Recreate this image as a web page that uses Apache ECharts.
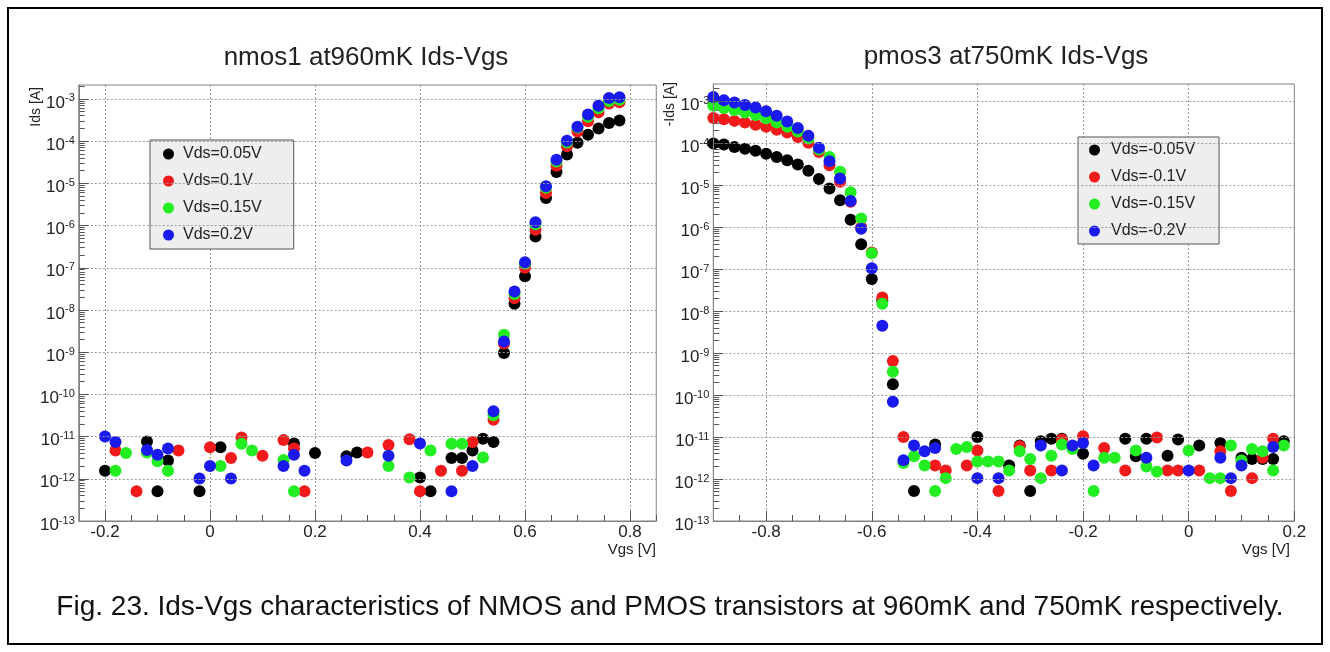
<!DOCTYPE html>
<html><head><meta charset="utf-8">
<script src="https://cdn.jsdelivr.net/npm/echarts@6/dist/echarts.min.js"></script>
<style>html,body{margin:0;padding:0;background:#fff}#c{width:1330px;height:652px}</style>
</head><body><div id="c"></div>
<script>
// ---------- texts ----------
const nmosTitle = 'nmos1 at960mK Ids-Vgs';
const pmosTitle = 'pmos3 at750mK Ids-Vgs';
const caption = 'Fig. 23. Ids-Vgs characteristics of NMOS and PMOS transistors at 960mK and 750mK respectively.';
const nmosYName = 'Ids [A]';
const pmosYName = '-Ids [A]';
const xName = 'Vgs [V]';
const nmosNames = ['Vds=0.05V', 'Vds=0.1V', 'Vds=0.15V', 'Vds=0.2V'];
const pmosNames = ['Vds=-0.05V', 'Vds=-0.1V', 'Vds=-0.15V', 'Vds=-0.2V'];

// ---------- tick labels ----------
const nmosXTicks = [-0.2, 0, 0.2, 0.4, 0.6, 0.8];
const pmosXTicks = [-0.8, -0.6, -0.4, -0.2, 0, 0.2];
const yDecades = [-13, -12, -11, -10, -9, -8, -7, -6, -5, -4, -3]; // exponents of 10

// ---------- data: [Vgs (V), Ids (A)] ----------
const nmos_vds005 = [[-0.2,1.55e-12],[-0.12,7.6e-12],[-0.10,5.1e-13],[-0.08,2.7e-12],[-0.02,5.1e-13],[0.02,5.6e-12],[0.16,6.9e-12],[0.20,4.1e-12],[0.26,3.4e-12],[0.28,4.2e-12],[0.40,1.07e-12],[0.42,5.1e-13],[0.46,3.1e-12],[0.48,3.1e-12],[0.50,4.7e-12],[0.52,8.9e-12],[0.54,7.4e-12],[0.56,9.5e-10],[0.58,1.4e-8],[0.60,6.3e-8],[0.62,5.5e-7],[0.64,4.5e-6],[0.66,1.86e-5],[0.68,4.8e-5],[0.70,9.1e-5],[0.72,1.41e-4],[0.74,2.0e-4],[0.76,2.7e-4],[0.78,3.1e-4]];
const nmos_vds010 = [[-0.18,4.7e-12],[-0.14,5.1e-13],[-0.06,4.7e-12],[0,5.6e-12],[0.04,3.1e-12],[0.06,9.5e-12],[0.10,3.5e-12],[0.14,8.3e-12],[0.16,5.2e-12],[0.18,5.1e-13],[0.30,4.2e-12],[0.34,6.3e-12],[0.38,8.7e-12],[0.40,5.1e-13],[0.44,1.55e-12],[0.48,1.55e-12],[0.50,7.4e-12],[0.54,2.5e-11],[0.56,1.6e-9],[0.58,1.9e-8],[0.60,1.0e-7],[0.62,7.9e-7],[0.64,5.9e-6],[0.66,2.6e-5],[0.68,7.6e-5],[0.70,1.7e-4],[0.72,2.95e-4],[0.74,4.8e-4],[0.76,7.8e-4],[0.78,8.3e-4]];
const nmos_vds015 = [[-0.18,1.55e-12],[-0.16,4.1e-12],[-0.12,4.2e-12],[-0.10,2.6e-12],[-0.08,1.55e-12],[0.02,2.0e-12],[0.06,6.8e-12],[0.08,4.7e-12],[0.14,2.8e-12],[0.16,5.1e-13],[0.34,2.0e-12],[0.38,1.07e-12],[0.42,4.7e-12],[0.46,6.8e-12],[0.48,6.8e-12],[0.52,3.2e-12],[0.54,3.2e-11],[0.56,2.6e-9],[0.58,2.4e-8],[0.60,1.26e-7],[0.62,1.07e-6],[0.64,7.9e-6],[0.66,3.3e-5],[0.68,9.3e-5],[0.70,2.1e-4],[0.72,3.8e-4],[0.74,6.0e-4],[0.76,8.9e-4],[0.78,9.5e-4]];
const nmos_vds020 = [[-0.2,1.0e-11],[-0.18,7.4e-12],[-0.12,4.8e-12],[-0.10,3.7e-12],[-0.08,5.2e-12],[-0.02,1.02e-12],[0,2.0e-12],[0.04,1.02e-12],[0.14,2.0e-12],[0.16,3.7e-12],[0.18,1.55e-12],[0.26,2.7e-12],[0.34,3.5e-12],[0.40,6.9e-12],[0.46,5.1e-13],[0.50,2.0e-12],[0.54,4.0e-11],[0.56,1.8e-9],[0.58,2.75e-8],[0.60,1.35e-7],[0.62,1.2e-6],[0.64,8.5e-6],[0.66,3.6e-5],[0.68,1.02e-4],[0.70,2.2e-4],[0.72,4.3e-4],[0.74,6.9e-4],[0.76,1.05e-3],[0.78,1.1e-3]];

const pmos_vds005 = [[-0.90,9.8e-5],[-0.88,9.3e-5],[-0.86,8.1e-5],[-0.84,7.4e-5],[-0.82,6.6e-5],[-0.80,5.6e-5],[-0.78,4.7e-5],[-0.76,3.9e-5],[-0.74,3.1e-5],[-0.72,2.2e-5],[-0.70,1.4e-5],[-0.68,8.3e-6],[-0.66,4.4e-6],[-0.64,1.5e-6],[-0.62,3.9e-7],[-0.60,5.8e-8],[-0.58,1.8e-8],[-0.56,1.8e-10],[-0.52,5.2e-13],[-0.48,6.6e-12],[-0.40,1.0e-11],[-0.34,2.1e-12],[-0.32,6.3e-12],[-0.30,5.2e-13],[-0.28,7.9e-12],[-0.26,9.1e-12],[-0.24,9.1e-12],[-0.20,4.0e-12],[-0.12,9.1e-12],[-0.10,3.5e-12],[-0.08,9.1e-12],[-0.04,3.6e-12],[-0.02,8.7e-12],[0.02,6.3e-12],[0.06,7.2e-12],[0.10,3.2e-12],[0.12,3.0e-12],[0.14,3.0e-12],[0.16,3.0e-12],[0.18,7.9e-12]];
const pmos_vds010 = [[-0.90,4.0e-4],[-0.88,3.7e-4],[-0.86,3.4e-4],[-0.84,3.1e-4],[-0.82,2.75e-4],[-0.80,2.45e-4],[-0.78,2.1e-4],[-0.76,1.8e-4],[-0.74,1.4e-4],[-0.72,1.02e-4],[-0.70,6.2e-5],[-0.68,3.0e-5],[-0.66,1.2e-5],[-0.64,4.0e-6],[-0.62,1.0e-6],[-0.60,2.5e-7],[-0.58,2.1e-8],[-0.56,6.5e-10],[-0.54,1.0e-11],[-0.48,2.1e-12],[-0.46,1.6e-12],[-0.42,2.1e-12],[-0.40,4.8e-12],[-0.36,5.2e-13],[-0.32,6.0e-12],[-0.30,1.6e-12],[-0.26,1.6e-12],[-0.24,8.7e-12],[-0.20,1.05e-11],[-0.16,5.5e-12],[-0.12,1.6e-12],[-0.06,9.8e-12],[-0.04,1.6e-12],[-0.02,1.6e-12],[0.02,1.6e-12],[0.06,4.6e-12],[0.08,5.2e-13],[0.12,1.05e-12],[0.14,3.2e-12],[0.16,9.1e-12]];
const pmos_vds015 = [[-0.90,7.8e-4],[-0.88,6.9e-4],[-0.86,6.2e-4],[-0.84,5.4e-4],[-0.82,4.7e-4],[-0.80,3.9e-4],[-0.78,3.1e-4],[-0.76,2.45e-4],[-0.74,1.9e-4],[-0.72,1.3e-4],[-0.70,7.1e-5],[-0.68,4.7e-5],[-0.66,2.1e-5],[-0.64,6.8e-6],[-0.62,1.6e-6],[-0.60,2.4e-7],[-0.58,1.5e-8],[-0.56,3.6e-10],[-0.54,2.4e-12],[-0.52,3.5e-12],[-0.50,2.1e-12],[-0.48,5.2e-13],[-0.46,1.05e-12],[-0.44,5.2e-12],[-0.42,5.8e-12],[-0.40,2.6e-12],[-0.38,2.6e-12],[-0.36,2.6e-12],[-0.34,1.6e-12],[-0.32,4.6e-12],[-0.30,3.0e-12],[-0.28,1.05e-12],[-0.26,3.6e-12],[-0.24,6.6e-12],[-0.22,5.2e-12],[-0.18,5.2e-13],[-0.16,3.2e-12],[-0.14,3.2e-12],[-0.10,4.8e-12],[-0.08,2.0e-12],[-0.06,1.5e-12],[0,4.8e-12],[0.04,1.05e-12],[0.06,1.05e-12],[0.08,6.3e-12],[0.10,2.75e-12],[0.12,5.2e-12],[0.14,4.6e-12],[0.16,1.6e-12],[0.18,6.3e-12]];
const pmos_vds020 = [[-0.90,1.26e-3],[-0.88,1.06e-3],[-0.86,9.3e-4],[-0.84,8.1e-4],[-0.82,7.1e-4],[-0.80,5.8e-4],[-0.78,4.5e-4],[-0.76,3.3e-4],[-0.74,2.3e-4],[-0.72,1.5e-4],[-0.70,7.8e-5],[-0.68,3.7e-5],[-0.66,1.45e-5],[-0.64,4.2e-6],[-0.62,9.1e-7],[-0.60,1.05e-7],[-0.58,4.5e-9],[-0.56,6.9e-11],[-0.54,2.8e-12],[-0.52,6.3e-12],[-0.50,4.6e-12],[-0.48,5.5e-12],[-0.40,1.05e-12],[-0.36,1.05e-12],[-0.28,6.3e-12],[-0.24,1.6e-12],[-0.22,6.3e-12],[-0.20,7.2e-12],[-0.18,2.1e-12],[-0.08,3.2e-12],[0,1.6e-12],[0.06,3.2e-12],[0.08,1.05e-12],[0.10,2.1e-12],[0.16,5.8e-12]];

// ---------- styling ----------
const FONT = "'Liberation Sans', Arial, Helvetica, sans-serif";
const COLORS = ['#000000', '#f21a1a', '#22ee22', '#1a1aee'];
const FRAME = '#808080';

const chart = echarts.init(document.getElementById('c'), null, {renderer: 'canvas'});

function minorX(min, max, majors) {
  const out = [];
  for (let k = Math.ceil(min / 0.05 - 1e-6); k * 0.05 <= max + 1e-6; k++) {
    const v = Math.round(k * 5) / 100;
    if (!majors.some(m => Math.abs(m - v) < 1e-6)) out.push(v);
  }
  return out;
}
function minorY(min, max) {
  const out = [];
  yDecades.forEach(n => { for (let k = 2; k <= 9; k++) { const v = n + Math.log10(k); if (v >= min && v <= max) out.push(v); } });
  return out;
}
const fmtX = v => (Math.abs(v) < 1e-9 ? '0' : String(Math.round(v * 10) / 10));
const fmtY = v => '{b|10}{e|' + Math.round(v) + '}';
const toLog = arr => arr.map(p => [p[0], Math.log10(p[1])]);

const panels = [
  {grid: {left: 78.75, top: 85, width: 577.5, height: 436}, xMin: -0.25, xMax: 0.85, yMin: -13, yMax: -2.67, xTicks: nmosXTicks,
   names: nmosNames, data: [nmos_vds005, nmos_vds010, nmos_vds015, nmos_vds020]},
  {grid: {left: 713.3, top: 84, width: 581, height: 437}, xMin: -0.9, xMax: 0.2, yMin: -13, yMax: -2.59, xTicks: pmosXTicks,
   names: pmosNames, data: [pmos_vds005, pmos_vds010, pmos_vds015, pmos_vds020]}
];

const grid = [], xAxis = [], yAxis = [], series = [];
panels.forEach((p, i) => {
  grid.push(Object.assign({show: true, backgroundColor: '#fff', borderColor: FRAME, borderWidth: 1}, p.grid));
  xAxis.push({type: 'value', gridIndex: i, min: p.xMin, max: p.xMax, position: 'bottom',
    axisLine: {show: true, onZero: false, lineStyle: {color: FRAME}},
    axisTick: {show: true, inside: true, length: 10, customValues: p.xTicks, lineStyle: {color: '#555'}},
    axisLabel: {customValues: p.xTicks, margin: 3, fontSize: 17, color: '#222', fontFamily: FONT, formatter: fmtX},
    splitLine: {show: true, lineStyle: {color: '#9a9a9a', type: [2, 2], width: 1}}});
  xAxis.push({type: 'value', gridIndex: i, min: p.xMin, max: p.xMax, position: 'bottom',
    axisLine: {show: false, onZero: false}, axisLabel: {show: false}, splitLine: {show: false},
    axisTick: {show: true, inside: true, length: 6, customValues: minorX(p.xMin, p.xMax, p.xTicks), lineStyle: {color: '#555'}}});
  yAxis.push({type: 'value', gridIndex: i, min: p.yMin, max: p.yMax, position: 'left', z: 10,
    axisLine: {show: true, onZero: false, lineStyle: {color: FRAME}},
    axisTick: {show: true, inside: true, length: 10, customValues: yDecades.slice(1), lineStyle: {color: '#555'}},
    axisLabel: {customValues: yDecades, margin: 4, color: '#222', fontFamily: FONT, formatter: fmtY, padding: [8, 0, 0, 0],
      rich: {b: {fontSize: 17, lineHeight: 20, fontFamily: FONT, color: '#222'},
             e: {fontSize: 11, lineHeight: 12, verticalAlign: 'top', fontFamily: FONT, color: '#222'}}},
    splitLine: {show: true, lineStyle: {color: '#9a9a9a', type: [2, 2], width: 1}}});
  yAxis.push({type: 'value', gridIndex: i, min: p.yMin, max: p.yMax, position: 'left',
    axisLine: {show: false, onZero: false}, axisLabel: {show: false}, splitLine: {show: false},
    axisTick: {show: true, inside: true, length: 6, customValues: minorY(p.yMin, p.yMax), lineStyle: {color: '#555'}}});
  p.data.forEach((d, s) => {
    series.push({type: 'scatter', name: p.names[s], xAxisIndex: i * 2, yAxisIndex: i * 2,
      data: toLog(d), symbol: 'circle', symbolSize: 12, itemStyle: {color: COLORS[s], opacity: 1}, z: 2 + s});
  });
});

const legendBase = {orient: 'vertical', icon: 'circle', itemWidth: 11, itemHeight: 11, itemGap: 11,
  backgroundColor: '#eeeeee', borderColor: '#555', borderWidth: 1, selectedMode: false};
const legend = [
  Object.assign({}, legendBase, {data: nmosNames, left: 150, top: 140, padding: [6, 32, 6, 13],
    textStyle: {fontSize: 16, lineHeight: 16, fontFamily: FONT, color: '#222', padding: [0, 0, 0, 4]}}),
  Object.assign({}, legendBase, {data: pmosNames, left: 1078, top: 137, padding: [5, 24, 5, 11],
    textStyle: {fontSize: 16, lineHeight: 16, fontFamily: FONT, color: '#222', padding: [0, 0, 0, 6]}})
];

const txt = (text, x, y, size, opts) => Object.assign({type: 'text', x: x, y: y, silent: true,
  style: Object.assign({text: text, fontSize: size, fontFamily: FONT, fill: '#222', align: 'center', verticalAlign: 'middle'}, (opts && opts.style) || {})},
  (opts && opts.el) || {});

const graphic = [
  {type: 'rect', shape: {x: 8, y: 8, width: 1314, height: 636}, style: {fill: 'none', stroke: '#000', lineWidth: 2}, silent: true},
  txt(nmosTitle, 366, 58, 26),
  txt(pmosTitle, 1006, 57, 26),
  txt(caption, 670, 607, 28, {style: {fill: '#111'}}),
  txt(xName, 656, 550, 15, {style: {align: 'right'}}),
  txt(xName, 1290, 550, 15, {style: {align: 'right'}}),
  txt(nmosYName, 36, 87, 14, {style: {align: 'right'}, el: {rotation: Math.PI / 2}}),
  txt(pmosYName, 670, 82, 14, {style: {align: 'right'}, el: {rotation: Math.PI / 2}})
];

chart.setOption({animation: false, backgroundColor: '#fff', grid, xAxis, yAxis, series, legend, graphic});
</script></body></html>
